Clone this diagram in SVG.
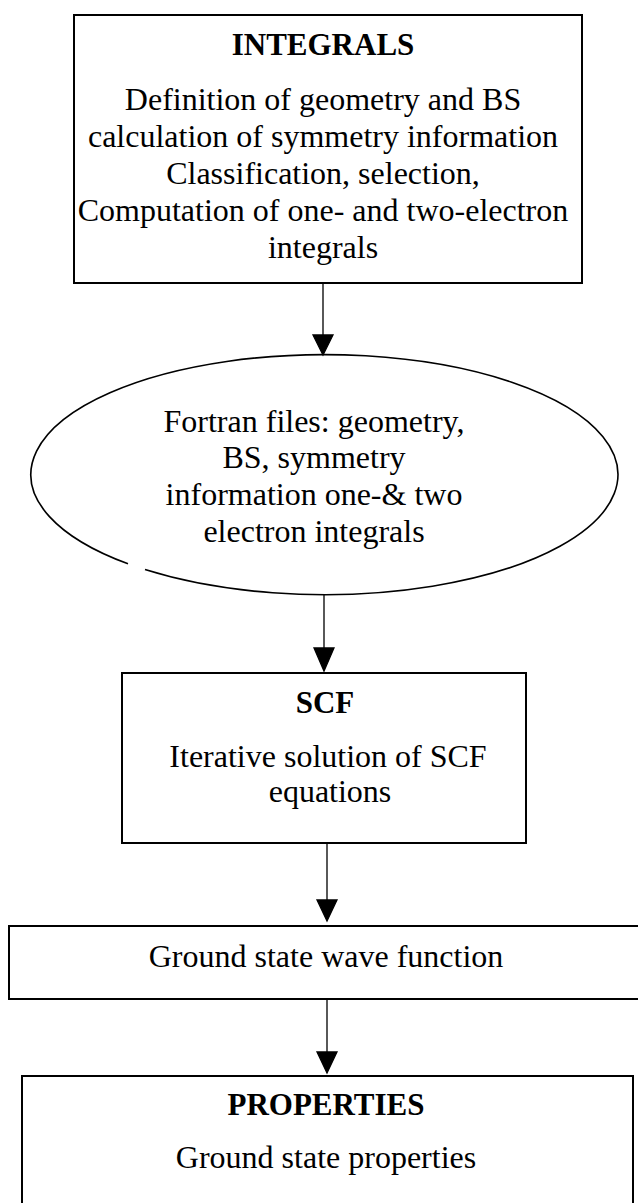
<svg xmlns="http://www.w3.org/2000/svg" width="638" height="1203" viewBox="0 0 638 1203">
<style>
text{font-family:"Liberation Serif","Times New Roman",serif;font-size:32px;fill:#000;text-anchor:middle}
.b{font-weight:bold;font-size:31px}
.box{fill:none;stroke:#000;stroke-width:2}
.arrow{fill:#000;stroke:#000;stroke-width:1.3}
</style>
<rect width="638" height="1203" fill="#fff"/>
<g id="integrals">
<rect class="box" x="74" y="15" width="508" height="268"/>
<text class="b" x="323" y="55">INTEGRALS</text>
<text x="323" y="110">Definition of geometry and BS</text>
<text x="323" y="147">calculation of symmetry information</text>
<text x="323" y="184">Classification, selection,</text>
<text x="323" y="221">Computation of one- and two-electron</text>
<text x="323" y="258">integrals</text>
</g>
<g id="fortran">
<path d="M128,563.8 A293.5,120 0 1 1 145,569.6" fill="none" stroke="#000" stroke-width="1.6"/>
<text x="314" y="432">Fortran files: geometry,</text>
<text x="314" y="468">BS, symmetry</text>
<text x="314" y="505">information one-&amp; two</text>
<text x="314" y="542">electron integrals</text>
</g>
<g id="scf">
<rect class="box" x="122" y="673" width="404" height="170"/>
<text class="b" x="325" y="713">SCF</text>
<text x="328" y="767">Iterative solution of SCF</text>
<text x="330" y="802">equations</text>
</g>
<g id="wave">
<rect class="box" x="9" y="926" width="640" height="73"/>
<text x="326" y="967">Ground state wave function</text>
</g>
<g id="properties">
<rect class="box" x="22" y="1076" width="611" height="140"/>
<text class="b" x="326" y="1115">PROPERTIES</text>
<text x="326" y="1168">Ground state properties</text>
</g>
<g id="connectors">
<path class="arrow" d="M323,283 V335 M313,335 H333 L323,355 Z"/>
<path class="arrow" d="M324,595 V648 M314,648 H334 L324,671 Z"/>
<path class="arrow" d="M327,843 V900 M317,900 H337 L327,921 Z"/>
<path class="arrow" d="M327,999 V1052 M317,1052 H337 L327,1073 Z"/>
</g>
</svg>
